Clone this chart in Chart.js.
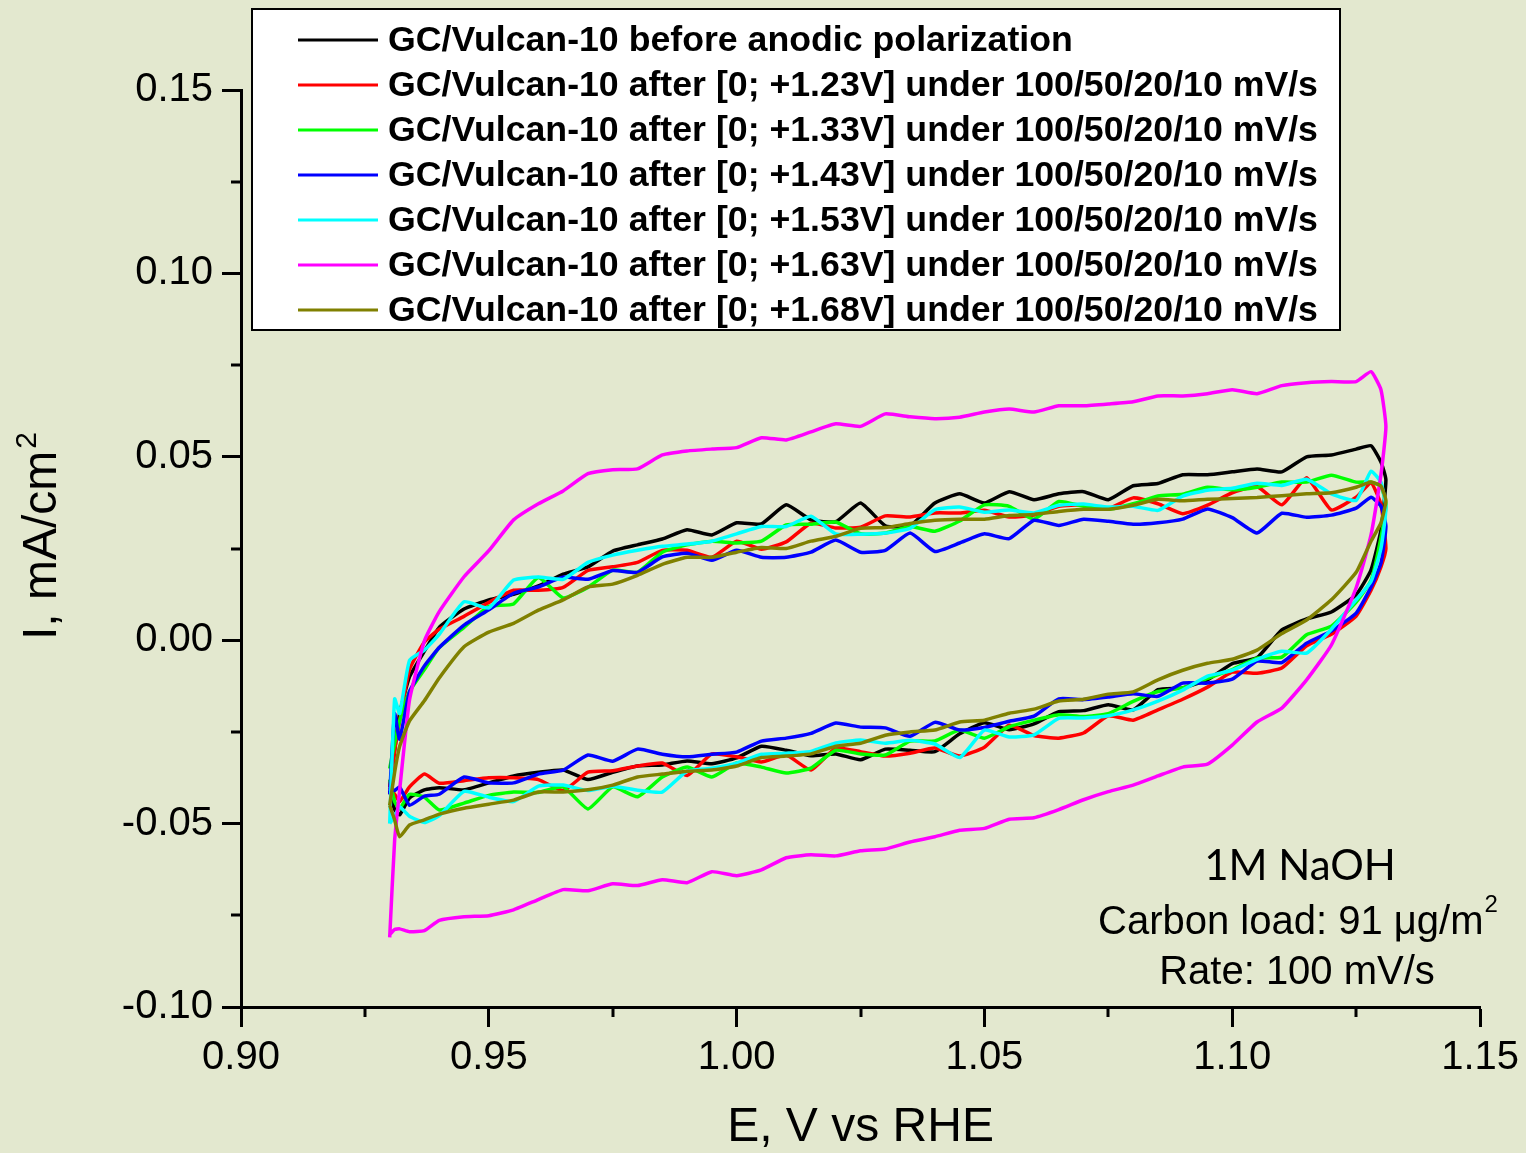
<!DOCTYPE html>
<html lang="en">
<head>
<meta charset="UTF-8" />
<title>GC/Vulcan-10 CV</title>
<script src="https://cdn.jsdelivr.net/npm/chart.js"></script>
<style>
  html, body { margin: 0; padding: 0; background: #e3e8cf; }
  #wrap { width: 1526px; height: 1153px; }
</style>
</head>
<body>
<div id="wrap"><canvas id="cvChart" width="1526" height="1153"></canvas></div>
<script>
// potential grid, V vs RHE (anodic sweep, then cathodic sweep back)
const E_ANODIC = [0.930, 0.931, 0.932, 0.934, 0.937, 0.940, 0.945,
  0.950, 0.955, 0.960, 0.965, 0.970, 0.975, 0.980, 0.985, 0.990, 0.995,
  1.000, 1.005, 1.010, 1.015, 1.020, 1.025, 1.030, 1.035, 1.040, 1.045,
  1.050, 1.055, 1.060, 1.065, 1.070, 1.075, 1.080, 1.085, 1.090, 1.095,
  1.100, 1.105, 1.110, 1.115, 1.120, 1.125, 1.128, 1.130];
const E_CATHODIC = [1.131, 1.130, 1.128,
  1.125, 1.120, 1.115, 1.110, 1.105, 1.100, 1.095, 1.090, 1.085, 1.080,
  1.075, 1.070, 1.065, 1.060, 1.055, 1.050, 1.045, 1.040, 1.035, 1.030,
  1.025, 1.020, 1.015, 1.010, 1.005, 1.000, 0.995, 0.990, 0.985, 0.980,
  0.975, 0.970, 0.965, 0.960, 0.955, 0.950,
  0.945, 0.940, 0.937, 0.934, 0.932, 0.931, 0.930];

// current, mA/cm2
const before_up = [-0.040, -0.030, -0.020, -0.010, -0.003, 0.0035, 0.0085,
  0.011, 0.0125, 0.0148, 0.018, 0.020, 0.0243, 0.026, 0.0276, 0.0301, 0.0287,
  0.032, 0.0317, 0.0369, 0.0328, 0.0323, 0.0374, 0.0312, 0.0312, 0.0374, 0.0399,
  0.0374, 0.0405, 0.0383, 0.0399, 0.0405, 0.0383, 0.0421, 0.0427, 0.0451, 0.0451,
  0.0459, 0.0467, 0.0459, 0.050, 0.0505, 0.0521, 0.053, 0.0486];
const before_down = [0.0437, 0.030, 0.0192,
  0.0124, 0.0077, 0.0058, 0.0028, -0.0048, -0.0064, -0.0108, -0.013, -0.0135, -0.019,
  -0.0176, -0.0192, -0.0195, -0.0228, -0.0244, -0.0225, -0.0255, -0.0304, -0.030, -0.0297,
  -0.0326, -0.031, -0.0315, -0.030, -0.0289, -0.0321, -0.0337, -0.0329, -0.034, -0.0343,
  -0.036, -0.038, -0.0354, -0.036, -0.037, -0.0389,
  -0.0408, -0.0402, -0.0408, -0.043, -0.0476, -0.0462, -0.041];

const v123_up = [-0.040, -0.030, -0.022, -0.008, -0.0005, 0.003, 0.0065,
  0.0103, 0.0136, 0.0136, 0.0144, 0.019, 0.020, 0.0212, 0.0245, 0.0245, 0.0226,
  0.027, 0.0248, 0.0268, 0.0319, 0.0306, 0.0308, 0.0339, 0.0336, 0.0347, 0.0347,
  0.0354, 0.0336, 0.0341, 0.0365, 0.0369, 0.0359, 0.0388, 0.0372, 0.0345, 0.0368,
  0.0402, 0.0419, 0.0369, 0.0443, 0.0355, 0.039, 0.0429, 0.037];
const v123_down = [0.025, 0.020, 0.0136,
  0.0066, 0.0016, -0.0015, -0.0076, -0.009, -0.0087, -0.0128, -0.0161, -0.019, -0.0218,
  -0.0206, -0.0253, -0.0267, -0.026, -0.0232, -0.0292, -0.0316, -0.0294, -0.0308, -0.0316,
  -0.0304, -0.0294, -0.0354, -0.0313, -0.0332, -0.0318, -0.031, -0.0369, -0.0335, -0.0343,
  -0.0356, -0.036, -0.041, -0.038, -0.0375, -0.0375,
  -0.0383, -0.039, -0.0365, -0.040, -0.044, -0.042, -0.040];

const v133_up = [-0.035, -0.028, -0.022, -0.014, -0.008, -0.002, 0.0035,
  0.0092, 0.0099, 0.0171, 0.0115, 0.0144, 0.0191, 0.0185, 0.024, 0.026, 0.027,
  0.0265, 0.027, 0.0314, 0.0316, 0.0322, 0.029, 0.0292, 0.031, 0.0297, 0.0325,
  0.0369, 0.0365, 0.033, 0.0378, 0.0365, 0.0357, 0.0372, 0.0393, 0.0398, 0.0417,
  0.041, 0.0417, 0.0431, 0.0431, 0.045, 0.0431, 0.0431, 0.042];
const v133_down = [0.037, 0.028, 0.0163,
  0.0104, 0.0038, 0.0015, -0.0046, -0.0049, -0.008, -0.0104, -0.013, -0.014, -0.0167,
  -0.020, -0.0208, -0.0203, -0.0218, -0.0236, -0.0267, -0.0245, -0.0275, -0.0275, -0.0313,
  -0.031, -0.030, -0.0349, -0.0362, -0.0346, -0.0335, -0.0373, -0.0346, -0.0373, -0.0427,
  -0.040, -0.046, -0.040, -0.0415, -0.0414, -0.0423,
  -0.0444, -0.0463, -0.0428, -0.042, -0.046, -0.044, -0.038];

const v143_up = [-0.042, -0.020, -0.027, -0.014, -0.007, -0.002, 0.0041,
  0.0083, 0.0128, 0.0145, 0.0172, 0.0166, 0.019, 0.0185, 0.0227, 0.0237, 0.0218,
  0.0245, 0.0226, 0.0226, 0.024, 0.0273, 0.024, 0.0245, 0.0292, 0.0242, 0.0265,
  0.029, 0.0277, 0.0327, 0.0313, 0.033, 0.0324, 0.0316, 0.032, 0.033, 0.0358,
  0.0334, 0.0292, 0.0346, 0.0335, 0.0341, 0.036, 0.039, 0.0365];
const v143_down = [0.031, 0.021, 0.0145,
  0.0074, 0.0025, -0.0008, -0.0061, -0.0057, -0.0106, -0.0117, -0.0117, -0.0153, -0.0146,
  -0.0155, -0.0162, -0.016, -0.0207, -0.0221, -0.0238, -0.0245, -0.0224, -0.0262, -0.0239,
  -0.0237, -0.0226, -0.0254, -0.0267, -0.0275, -0.0305, -0.0311, -0.0318, -0.0311, -0.0297,
  -0.033, -0.0313, -0.0354, -0.0365, -0.0389, -0.0389,
  -0.0373, -0.042, -0.0425, -0.045, -0.040, -0.041, -0.040];

const v153_up = [-0.050, -0.016, -0.020, -0.0055, -0.0027, 0.0016, 0.0105,
  0.0088, 0.0164, 0.0172, 0.0166, 0.0212, 0.0232, 0.0245, 0.0256, 0.0262, 0.027,
  0.029, 0.031, 0.031, 0.0338, 0.029, 0.0289, 0.0292, 0.0305, 0.0356, 0.0363,
  0.0349, 0.0355, 0.0347, 0.0368, 0.0371, 0.0363, 0.0365, 0.0354, 0.0393, 0.0409,
  0.0414, 0.0428, 0.0422, 0.0439, 0.0399, 0.0381, 0.0461, 0.043];
const v153_down = [0.036, 0.025, 0.016,
  0.011, 0.003, -0.0035, -0.003, -0.0052, -0.0082, -0.0098, -0.0136, -0.0166, -0.019,
  -0.0206, -0.0212, -0.0213, -0.0258, -0.0264, -0.0245, -0.032, -0.0283, -0.0273, -0.0281,
  -0.0272, -0.028, -0.0303, -0.0308, -0.0311, -0.0335, -0.0349, -0.0357, -0.0414, -0.0409,
  -0.0398, -0.041, -0.0395, -0.0398, -0.044, -0.0428,
  -0.0412, -0.0478, -0.0497, -0.048, -0.0454, -0.048, -0.050];

const v163_up = [-0.081, -0.0545, -0.041, -0.0163, -0.0002, 0.0078, 0.0173,
  0.0244, 0.0328, 0.0372, 0.0407, 0.0454, 0.0465, 0.0467, 0.0505, 0.0516, 0.0521,
  0.0525, 0.0552, 0.0546, 0.0568, 0.059, 0.0583, 0.0617, 0.0609, 0.0604, 0.0608,
  0.0622, 0.063, 0.0622, 0.0639, 0.0639, 0.0644, 0.065, 0.0666, 0.0666, 0.0672,
  0.0683, 0.0672, 0.0694, 0.0702, 0.0705, 0.0705, 0.0732, 0.0683];
const v163_down = [0.0582, 0.0451, 0.0287,
  0.0143, -0.0013, -0.0108, -0.0185, -0.0223, -0.0286, -0.0338, -0.0346, -0.037, -0.0395,
  -0.0413, -0.0435, -0.0462, -0.0484, -0.0488, -0.0513, -0.0518, -0.0536, -0.055, -0.0569,
  -0.0574, -0.0588, -0.0585, -0.0593, -0.0626, -0.0642, -0.0631, -0.0661, -0.0653, -0.0669,
  -0.0664, -0.0683, -0.068, -0.0707, -0.0735, -0.0751,
  -0.0754, -0.0764, -0.0792, -0.0795, -0.0787, -0.0789, -0.0803];

const v168_up = [-0.045, -0.036, -0.029, -0.022, -0.0165, -0.0103, -0.0018,
  0.0022, 0.0046, 0.0082, 0.011, 0.0145, 0.0153, 0.0177, 0.0207, 0.0226, 0.0226,
  0.024, 0.0253, 0.025, 0.027, 0.0283, 0.0305, 0.0307, 0.0318, 0.0327, 0.033,
  0.033, 0.034, 0.0343, 0.0351, 0.0357, 0.0357, 0.0368, 0.0384, 0.038, 0.0384,
  0.0386, 0.0389, 0.0394, 0.0399, 0.0402, 0.0417, 0.0431, 0.042];
const v168_down = [0.038, 0.032, 0.027,
  0.0185, 0.011, 0.0055, 0.0018, -0.0027, -0.0052, -0.0063, -0.0082, -0.0108, -0.0141,
  -0.0147, -0.0161, -0.0166, -0.0188, -0.0199, -0.0218, -0.0223, -0.0245, -0.025, -0.0259,
  -0.0281, -0.0289, -0.031, -0.0316, -0.032, -0.0343, -0.0354, -0.0357, -0.0365, -0.0373,
  -0.0395, -0.0408, -0.0414, -0.0414, -0.0436, -0.0447,
  -0.0458, -0.0474, -0.049, -0.0504, -0.0536, -0.049, -0.045];

const LABELS = [
  'GC/Vulcan-10 before anodic polarization',
  'GC/Vulcan-10 after [0; +1.23V] under 100/50/20/10 mV/s',
  'GC/Vulcan-10 after [0; +1.33V] under 100/50/20/10 mV/s',
  'GC/Vulcan-10 after [0; +1.43V] under 100/50/20/10 mV/s',
  'GC/Vulcan-10 after [0; +1.53V] under 100/50/20/10 mV/s',
  'GC/Vulcan-10 after [0; +1.63V] under 100/50/20/10 mV/s',
  'GC/Vulcan-10 after [0; +1.68V] under 100/50/20/10 mV/s'
];
const COLORS = ['#000000', '#ff0000', '#00ff00', '#0000ff', '#00ffff', '#ff00ff', '#808000'];
const UP = [before_up, v123_up, v133_up, v143_up, v153_up, v163_up, v168_up];
const DOWN = [before_down, v123_down, v133_down, v143_down, v153_down, v163_down, v168_down];

const X_MINOR = [0.925, 0.975, 1.025, 1.075, 1.125];
const Y_MINOR = [-0.075, -0.025, 0.025, 0.075, 0.125];

const BG = '#e3e8cf';
const FONT = '"Liberation Sans", Arial, sans-serif';

function loop(i) {
  const a = E_ANODIC.map((e, k) => ({ x: e, y: UP[i][k] }));
  const c = E_CATHODIC.map((e, k) => ({ x: e, y: DOWN[i][k] }));
  return a.concat(c);
}

const datasets = LABELS.map((lab, i) => ({
  label: lab,
  data: loop(i),
  showLine: true,
  borderColor: COLORS[i],
  backgroundColor: COLORS[i],
  borderWidth: 3.5,
  pointRadius: 0,
  tension: 0.15,
  order: LABELS.length - 1 - i   // later curves on top
}));

// background, minor ticks, y title, legend box and notes
const extras = {
  id: 'extras',
  beforeDraw(chart) {
    const c = chart.ctx;
    c.save();
    c.fillStyle = BG;
    c.fillRect(0, 0, chart.width, chart.height);
    c.restore();
  },
  afterDraw(chart) {
    const c = chart.ctx;
    const xs = chart.scales.x, ys = chart.scales.y;
    const area = chart.chartArea;
    c.save();
    c.strokeStyle = '#000';
    c.lineWidth = 3;
    X_MINOR.forEach(v => {
      const px = Math.round(xs.getPixelForValue(v));
      c.beginPath(); c.moveTo(px, area.bottom); c.lineTo(px, area.bottom + 10); c.stroke();
    });
    Y_MINOR.forEach(v => {
      const py = Math.round(ys.getPixelForValue(v));
      c.beginPath(); c.moveTo(area.left, py); c.lineTo(area.left - 10, py); c.stroke();
    });

    // y axis title with superscript
    c.save();
    c.translate(43, 640);
    c.rotate(-Math.PI / 2);
    c.fillStyle = '#000';
    c.textAlign = 'left';
    c.textBaseline = 'middle';
    c.font = '48px ' + FONT;
    const yt = 'I, mA/cm';
    c.fillText(yt, 0, 0);
    const yw = c.measureText(yt).width;
    c.font = '30px ' + FONT;
    c.fillText('2', yw + 2, -15);
    c.restore();

    // legend
    c.fillStyle = '#fff';
    c.fillRect(252, 9, 1088, 321);
    c.strokeStyle = '#000';
    c.lineWidth = 2;
    c.strokeRect(252, 9, 1088, 321);
    c.font = 'bold 35.7px ' + FONT;
    c.textBaseline = 'middle';
    c.textAlign = 'left';
    LABELS.forEach((lab, i) => {
      const y = 40 + i * 45;
      c.strokeStyle = COLORS[i];
      c.lineWidth = 3;
      c.beginPath(); c.moveTo(298, y); c.lineTo(378, y); c.stroke();
      c.fillStyle = '#000';
      c.fillText(lab, 388, y + 1);
    });

    // notes
    c.fillStyle = '#000';
    c.textAlign = 'center';
    c.font = '42px Lato, "DejaVu Sans", sans-serif';
    c.fillText('1M NaOH', 1300, 866);
    c.font = '40px ' + FONT;
    c.textAlign = 'left';
    const t = 'Carbon load: 91 \u03bcg/m';
    c.fillText(t, 1098, 923);
    const w = c.measureText(t).width;
    c.font = '24px ' + FONT;
    c.fillText('2', 1098 + w + 1, 905);
    c.font = '40px ' + FONT;
    c.textAlign = 'center';
    c.fillText('Rate: 100 mV/s', 1297, 973);
    c.restore();
  }
};

const tickFont = { family: FONT, size: 40 };
const titleFont = { family: FONT, size: 48, lineHeight: 1 };

new Chart(document.getElementById('cvChart'), {
  type: 'scatter',
  data: { datasets },
  plugins: [extras],
  options: {
    responsive: false,
    animation: false,
    layout: { padding: { top: 90, right: 45, bottom: 0, left: 0 } },
    plugins: { legend: { display: false }, tooltip: { enabled: false } },
    scales: {
      x: {
        type: 'linear',
        min: 0.9,
        max: 1.15,
        ticks: {
          stepSize: 0.05,
          color: '#000',
          font: tickFont,
          padding: 7,
          maxRotation: 0,
          callback: v => Number(v).toFixed(2)
        },
        grid: { drawOnChartArea: false, drawTicks: true, tickLength: 20, tickWidth: 3, tickColor: '#000' },
        border: { display: true, color: '#000', width: 3 },
        title: { display: true, text: 'E, V vs RHE', color: '#000', font: titleFont, padding: { top: 0, bottom: 1 } },
        afterFit(s) { s.height = 146; }
      },
      y: {
        type: 'linear',
        min: -0.1,
        max: 0.15,
        ticks: {
          stepSize: 0.05,
          color: '#000',
          font: tickFont,
          padding: 9,
          callback: v => Number(v).toFixed(2)
        },
        grid: { drawOnChartArea: false, drawTicks: true, tickLength: 19, tickWidth: 3, tickColor: '#000' },
        border: { display: true, color: '#000', width: 3 },
        title: { display: false },
        afterFit(s) { s.width = 241; }
      }
    }
  }
});
</script>
</body>
</html>
